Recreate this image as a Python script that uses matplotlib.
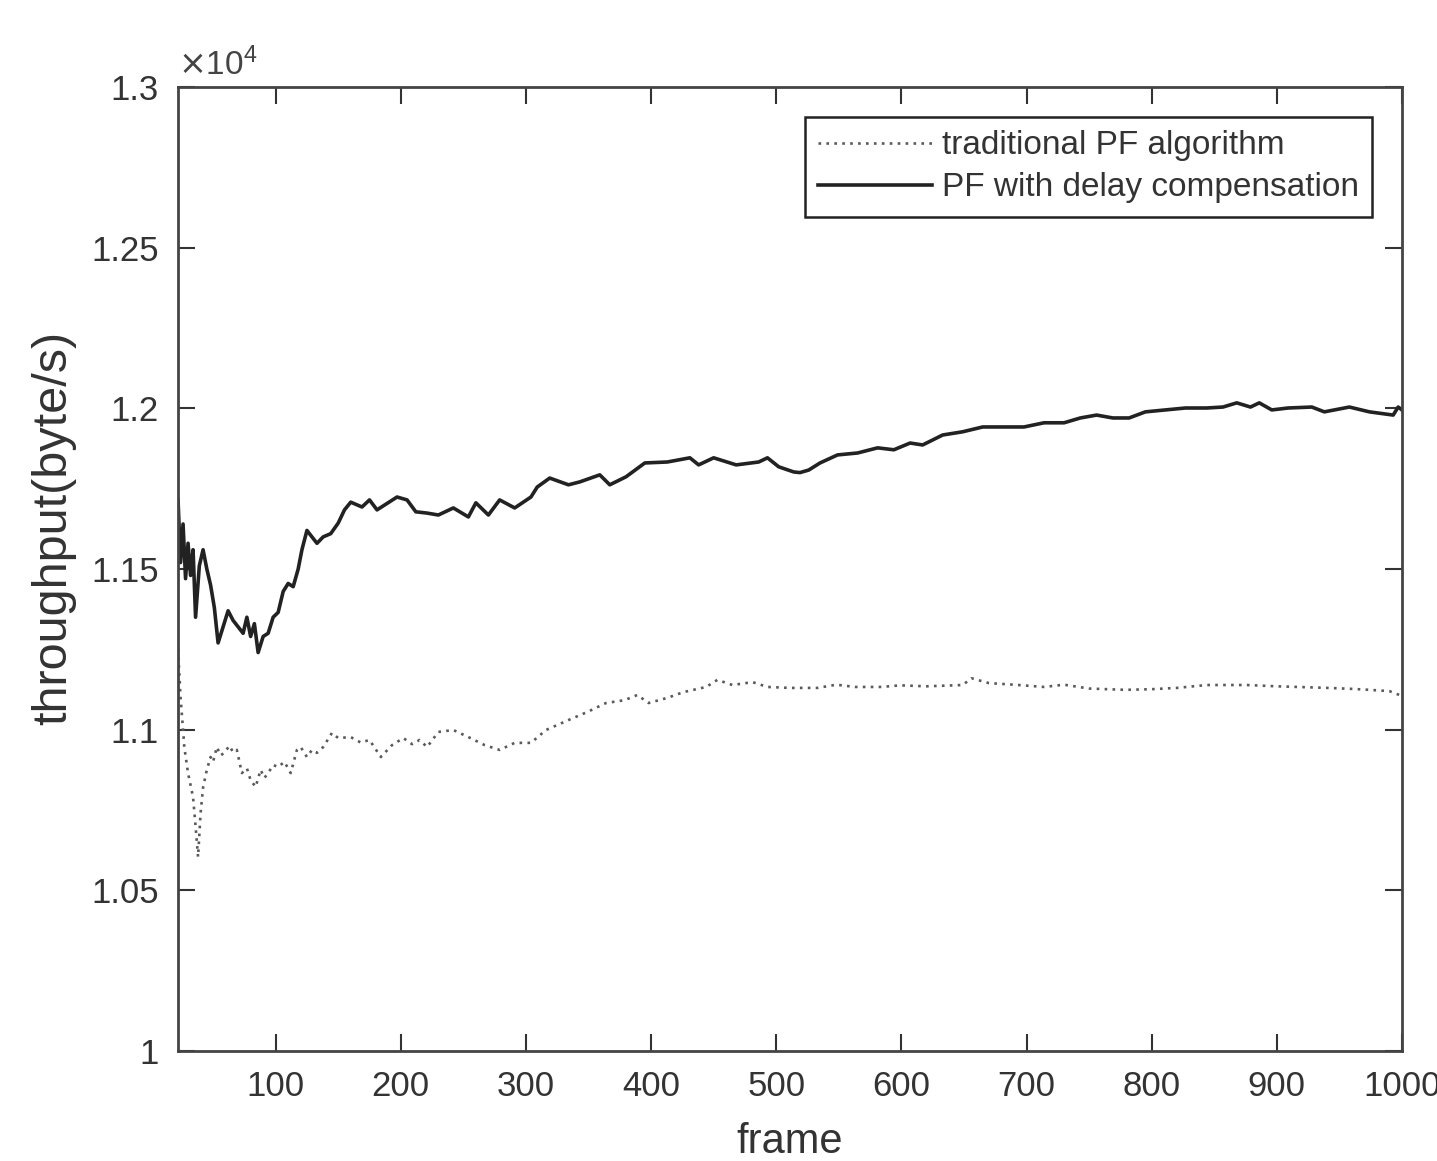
import numpy as np
import matplotlib.pyplot as plt
from matplotlib.ticker import FuncFormatter

plt.rcParams['font.family'] = ['Liberation Sans', 'DejaVu Sans']

# PF with delay compensation (solid)
frames_dc = [22, 24, 26, 28, 30, 32, 34, 36, 39, 42, 45, 48, 51, 54, 58, 62, 66, 70, 74, 77,
             80, 83, 86, 90, 94, 98, 102, 106, 110, 114, 118, 121, 125, 129, 133, 138, 144, 150,
             155, 160, 169, 175, 181, 187, 197, 205, 212, 221, 230, 242, 254, 260, 270, 279,
             291, 304, 309, 319, 334, 343, 359, 367, 380, 395, 413, 431, 438, 450, 468, 486,
             493, 502, 514, 519, 526, 535, 549, 565, 581, 594, 607, 617, 633, 649, 665, 681,
             698, 714, 730, 743, 756, 769, 782, 795, 811, 827, 844, 857, 868, 879, 886, 896,
             909, 928, 938, 958, 974, 993, 997, 1000]
thr_dc = [11715, 11520, 11640, 11470, 11580, 11480, 11560, 11350, 11510, 11560, 11500, 11450,
          11380, 11270, 11320, 11370, 11340, 11320, 11300, 11350, 11290, 11330, 11240, 11290,
          11300, 11350, 11365, 11430, 11455, 11445, 11500, 11560, 11620, 11600, 11580, 11600,
          11610, 11643, 11684, 11708, 11693, 11715, 11684, 11699, 11724, 11715, 11678, 11674,
          11668, 11690, 11662, 11706, 11668, 11715, 11690, 11724, 11755, 11783, 11762, 11771,
          11793, 11762, 11787, 11830, 11833, 11846, 11824, 11846, 11824, 11833, 11846, 11818,
          11802, 11800, 11808, 11830, 11855, 11861, 11877, 11871, 11892, 11886, 11917, 11927,
          11942, 11942, 11942, 11955, 11955, 11970, 11979, 11970, 11970, 11989, 11995, 12001,
          12001, 12004, 12017, 12004, 12017, 11995, 12001, 12004, 11989, 12004, 11989, 11979,
          12004, 11995]

# traditional PF algorithm (dotted)
frames_pf = [22, 24, 26, 27, 30, 34, 36, 38, 40, 42, 45, 48, 50, 53, 56, 59, 63, 66, 69, 73,
             77, 80, 84, 88, 91, 94, 98, 102, 107, 112, 117, 120, 125, 129, 133, 138, 145, 150,
             160, 168, 175, 184, 193, 202, 209, 215, 221, 230, 242, 254, 267, 279, 291, 304,
             316, 334, 349, 364, 379, 389, 398, 413, 426, 444, 453, 465, 481, 493, 511, 533,
             548, 563, 584, 599, 620, 649, 656, 670, 690, 714, 730, 750, 779, 800, 820, 844,
             876, 900, 941, 960, 974, 990, 1000]
thr_pf = [11250, 11100, 11000, 10946, 10865, 10790, 10700, 10604, 10740, 10820, 10875, 10915,
          10900, 10946, 10920, 10928, 10950, 10930, 10937, 10865, 10880, 10843, 10822, 10875,
          10850, 10865, 10890, 10884, 10900, 10865, 10937, 10946, 10915, 10937, 10928, 10946,
          10990, 10974, 10977, 10960, 10968, 10915, 10952, 10974, 10955, 10968, 10946, 10993,
          10999, 10977, 10952, 10937, 10959, 10959, 10999, 11030, 11055, 11083, 11092, 11108,
          11083, 11099, 11117, 11133, 11155, 11139, 11148, 11133, 11130, 11130, 11140, 11133,
          11133, 11138, 11135, 11139, 11160, 11145, 11140, 11133, 11140, 11128, 11124, 11126,
          11130, 11139, 11139, 11135, 11130, 11127, 11124, 11120, 11105]

xticks = [100, 200, 300, 400, 500, 600, 700, 800, 900, 1000]
yticks = [10000, 10500, 11000, 11500, 12000, 12500, 13000]

fig = plt.figure(figsize=(14.37, 11.61), dpi=100)
ax = fig.add_axes([0.1239, 0.0947, 0.8517, 0.8304])

ax.plot(frames_pf, thr_pf, linestyle=(0, (1, 2)), color='#5a5a5a', linewidth=1.9,
        label='traditional PF algorithm')
ax.plot(frames_dc, thr_dc, '-', color='#222222', linewidth=2.6,
        label='PF with delay compensation')

ax.set_xlim(22, 1000)
ax.set_ylim(10000, 13000)
ax.set_xticks(xticks)
ax.set_yticks(yticks)
ax.yaxis.set_major_formatter(FuncFormatter(lambda v, p: '%g' % (v / 1e4)))
ax.tick_params(direction='in', length=12, width=1.5, top=True, right=True,
               labelsize=25, colors='#333333', pad=14)
for s in ax.spines.values():
    s.set_color('#444444')
    s.set_linewidth(2)

ax.text(0.0, 1.005, r'$\times\mathregular{10^{4}}$', transform=ax.transAxes,
        fontsize=24, color='#444444', ha='left', va='bottom')

ax.set_xlabel('frame', fontsize=30, color='#333333', labelpad=13)
ax.set_ylabel('throughput(byte/s)', fontsize=35, color='#333333')
ax.yaxis.set_label_coords(-0.083, 0.543)

leg = ax.legend(loc='upper right', fontsize=24, handlelength=3.4, handletextpad=0.3,
                labelspacing=0.33, borderaxespad=0.9, fancybox=False, framealpha=1)
leg.get_frame().set_edgecolor('#222222')
leg.get_frame().set_linewidth(1.8)
for t in leg.get_texts():
    t.set_color('#333333')

fig.savefig('out.png', dpi=100)
